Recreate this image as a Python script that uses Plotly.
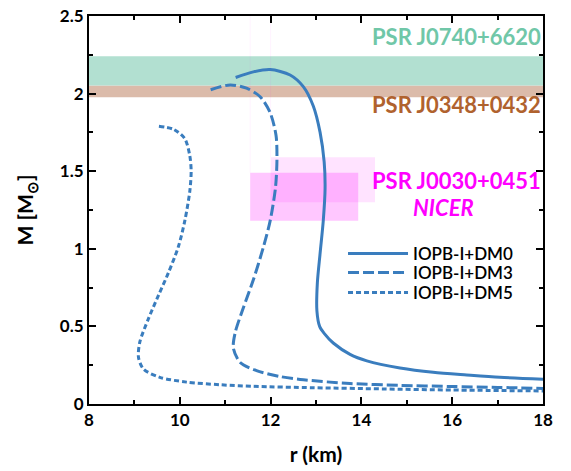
import plotly.graph_objects as go

# ---- data ----
r_dm0 = [11.23, 11.62, 11.99, 12.43, 12.72, 12.94, 13.09, 13.18, 13.20, 13.16, 13.09, 13.03, 13.02, 13.08, 13.18, 13.38, 13.75, 14.12, 14.85, 15.58, 16.32, 17.05, 18.0]
m_dm0 = [2.104, 2.14, 2.155, 2.12, 2.045, 1.92, 1.75, 1.56, 1.39, 1.18, 0.97, 0.78, 0.60, 0.50, 0.455, 0.393, 0.32, 0.278, 0.232, 0.204, 0.187, 0.172, 0.160]

r_dm3 = [10.68, 11.11, 11.47, 11.77, 11.99, 12.12, 12.14, 12.11, 11.99, 11.84, 11.62, 11.40, 11.22, 11.18, 11.33, 11.69, 12.21, 12.65, 13.75, 14.85, 15.95, 17.0, 18.0]
m_dm3 = [2.025, 2.056, 2.035, 1.98, 1.877, 1.73, 1.58, 1.40, 1.18, 1.01, 0.80, 0.62, 0.46, 0.36, 0.267, 0.215, 0.177, 0.158, 0.132, 0.120, 0.113, 0.107, 0.100]

r_dm5 = [9.54, 9.86, 10.11, 10.22, 10.25, 10.22, 10.11, 9.97, 9.75, 9.53, 9.31, 9.12, 9.09, 9.20, 9.56, 10.15, 10.89, 11.62, 12.94, 14.5, 16.0, 18.0]
m_dm5 = [1.79, 1.77, 1.71, 1.60, 1.50, 1.37, 1.18, 1.015, 0.846, 0.70, 0.55, 0.40, 0.30, 0.225, 0.172, 0.141, 0.124, 0.114, 0.105, 0.097, 0.090, 0.084]

series_names = ["IOPB-I+DM0", "IOPB-I+DM3", "IOPB-I+DM5"]

band_j0740 = [2.052, 2.241]
band_j0348 = [1.976, 2.052]
nicer_box1_r = [12.0, 14.3]
nicer_box1_m = [1.30, 1.59]
nicer_box2_r = [11.55, 13.93]
nicer_box2_m = [1.18, 1.49]

x_ticks = [8, 10, 12, 14, 16, 18]
y_ticks = [0, 0.5, 1, 1.5, 2, 2.5]

BLUE = "#3a7dbe"
FONT = "Lato"

fig = go.Figure()
fig.add_trace(go.Scatter(x=r_dm0, y=m_dm0, mode="lines", name=series_names[0], legend="legend",
                         line=dict(color=BLUE, width=3, shape="spline", smoothing=0.8)))
fig.add_trace(go.Scatter(x=r_dm3, y=m_dm3, mode="lines", name=series_names[1], legend="legend2",
                         line=dict(color=BLUE, width=3, dash="11px,4px", shape="spline", smoothing=0.8)))
fig.add_trace(go.Scatter(x=r_dm5, y=m_dm5, mode="lines", name=series_names[2], legend="legend3",
                         line=dict(color=BLUE, width=3, dash="5px,3px", shape="spline", smoothing=0.8)))

# bands
fig.add_shape(type="rect", xref="x", yref="y", x0=8, x1=18, y0=band_j0348[0], y1=band_j0348[1],
              fillcolor="#dbbbaa", line_width=0, layer="below")
fig.add_shape(type="rect", xref="x", yref="y", x0=8, x1=18, y0=band_j0740[0], y1=band_j0740[1],
              fillcolor="#b2e0d1", line_width=0, layer="below")
# NICER boxes
fig.add_shape(type="rect", xref="x", yref="y", x0=nicer_box1_r[0], x1=nicer_box1_r[1],
              y0=nicer_box1_m[0], y1=nicer_box1_m[1],
              fillcolor="rgba(255,0,255,0.11)", line_width=0, layer="below")
fig.add_shape(type="rect", xref="x", yref="y", x0=nicer_box2_r[0], x1=nicer_box2_r[1],
              y0=nicer_box2_m[0], y1=nicer_box2_m[1],
              fillcolor="rgba(255,0,255,0.22)", line_width=0, layer="below")
# faint outlines
fig.add_shape(type="line", xref="x", yref="y", x0=nicer_box2_r[0], x1=nicer_box2_r[0],
              y0=nicer_box2_m[1], y1=2.5, line=dict(color="rgba(255,0,255,0.05)", width=1), layer="below")
fig.add_shape(type="line", xref="x", yref="y", x0=nicer_box1_r[0], x1=nicer_box1_r[0],
              y0=nicer_box1_m[1], y1=2.5, line=dict(color="rgba(255,0,255,0.05)", width=1), layer="below")

ann_font = dict(family=FONT, size=22, weight="bold")
fig.add_annotation(x=18, y=2.371, xref="x", yref="y", text="PSR J0740+6620", showarrow=False,
                   xanchor="right", yanchor="middle", font=dict(ann_font, color="#70c7a8"))
fig.add_annotation(x=18, y=1.933, xref="x", yref="y", text="PSR J0348+0432", showarrow=False,
                   xanchor="right", yanchor="middle", font=dict(ann_font, color="#b0622e"))
fig.add_annotation(x=18, y=1.437, xref="x", yref="y", text="PSR J0030+0451", showarrow=False,
                   xanchor="right", yanchor="middle", font=dict(ann_font, color="#ff00ff"))
fig.add_annotation(x=15.8, y=1.263, xref="x", yref="y", text="<i>NICER</i>", showarrow=False,
                   xanchor="center", yanchor="middle", font=dict(ann_font, color="#ff00ff"))

axis_common = dict(showline=True, linecolor="black", linewidth=2, mirror="ticks", ticks="inside",
                   tickcolor="black", tickwidth=2, ticklen=7, showgrid=False, zeroline=False,
                   ticklabeloverflow="allow", automargin=False,
                   tickfont=dict(family=FONT, size=17, color="black", weight="bold"))

fig.update_xaxes(range=[8, 18], tickvals=x_ticks, ticktext=[str(v) for v in x_ticks],
                 minor=dict(dtick=1, ticks="inside", ticklen=4, tickwidth=1.5, tickcolor="black"),
                 title=dict(text="r (km)", font=dict(family=FONT, size=21, color="black", weight="bold"), standoff=18),
                 **axis_common)
fig.update_yaxes(range=[0, 2.5], tickvals=y_ticks, ticktext=["0", "0.5", "1", "1.5", "2", "2.5"],
                 minor=dict(dtick=0.25, ticks="inside", ticklen=4, tickwidth=1.5, tickcolor="black"),
                 title=dict(text="M [M<sub>⊙</sub>]", font=dict(family=FONT, size=21, color="black", weight="bold"), standoff=20),
                 **axis_common)

leg_common = dict(xanchor="left", yanchor="top", bgcolor="rgba(0,0,0,0)", x=0.5595,
                  font=dict(family=FONT, size=17, color="black", weight=600), itemwidth=60)

fig.update_layout(
    width=571, height=471,
    margin=dict(l=81, r=36, t=8, b=75),
    plot_bgcolor="white", paper_bgcolor="white",
    legend=dict(leg_common, y=0.433),
    legend2=dict(leg_common, y=0.384),
    legend3=dict(leg_common, y=0.3325),
    showlegend=True,
)

fig.write_html("out.html")
